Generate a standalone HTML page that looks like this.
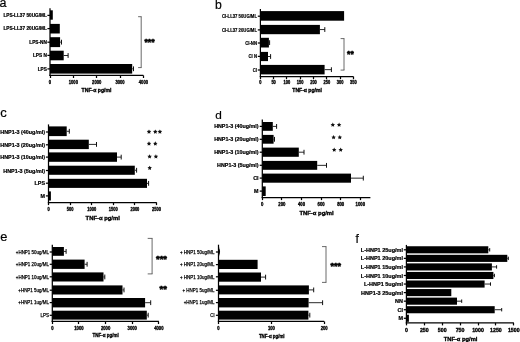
<!DOCTYPE html>
<html><head><meta charset="utf-8"><style>
html,body{margin:0;padding:0;background:#fff;}
svg{display:block;font-family:"Liberation Sans",sans-serif;}
.g{will-change:transform;}
</style></head><body>
<svg width="520" height="342" viewBox="0 0 520 342">
<rect width="520" height="342" fill="#fff"/>
<g class="g" opacity="0.999">
<rect x="50.00" y="10.30" width="2.80" height="9.40" fill="#000"/>
<line x1="47.40" y1="15.40" x2="50.00" y2="15.40" stroke="#000" stroke-width="1.25"/>
<text x="46.80" y="17.26" font-size="5.2" font-weight="bold" text-anchor="end" textLength="43.40" lengthAdjust="spacingAndGlyphs" fill="#000" stroke="#000" stroke-width="0.24">LPS-LL37 50UG/ML</text>
<rect x="50.00" y="23.90" width="9.80" height="9.60" fill="#000"/>
<line x1="47.40" y1="28.60" x2="50.00" y2="28.60" stroke="#000" stroke-width="1.25"/>
<text x="46.80" y="30.46" font-size="5.2" font-weight="bold" text-anchor="end" textLength="43.40" lengthAdjust="spacingAndGlyphs" fill="#000" stroke="#000" stroke-width="0.24">LPS-LL37 20UG/ML</text>
<rect x="50.00" y="37.20" width="10.10" height="9.90" fill="#000"/>
<line x1="60.10" y1="42.15" x2="61.50" y2="42.15" stroke="#111" stroke-width="0.9"/>
<line x1="61.50" y1="39.75" x2="61.50" y2="44.55" stroke="#111" stroke-width="1.0"/>
<line x1="47.40" y1="42.20" x2="50.00" y2="42.20" stroke="#000" stroke-width="1.25"/>
<text x="46.80" y="44.06" font-size="5.2" font-weight="bold" text-anchor="end" textLength="17.52" lengthAdjust="spacingAndGlyphs" fill="#000" stroke="#000" stroke-width="0.24">LPS-NN</text>
<rect x="50.00" y="50.70" width="13.70" height="9.60" fill="#000"/>
<line x1="63.70" y1="55.50" x2="68.10" y2="55.50" stroke="#111" stroke-width="0.9"/>
<line x1="68.10" y1="53.10" x2="68.10" y2="57.90" stroke="#111" stroke-width="1.0"/>
<line x1="47.40" y1="55.40" x2="50.00" y2="55.40" stroke="#000" stroke-width="1.25"/>
<text x="46.80" y="57.26" font-size="5.2" font-weight="bold" text-anchor="end" textLength="13.86" lengthAdjust="spacingAndGlyphs" fill="#000" stroke="#000" stroke-width="0.24">LPS N</text>
<rect x="50.00" y="64.00" width="82.20" height="9.60" fill="#000"/>
<line x1="132.20" y1="68.80" x2="133.50" y2="68.80" stroke="#111" stroke-width="0.9"/>
<line x1="133.50" y1="66.40" x2="133.50" y2="71.20" stroke="#111" stroke-width="1.0"/>
<line x1="47.40" y1="68.90" x2="50.00" y2="68.90" stroke="#000" stroke-width="1.25"/>
<text x="46.80" y="70.76" font-size="5.2" font-weight="bold" text-anchor="end" textLength="9.15" lengthAdjust="spacingAndGlyphs" fill="#000" stroke="#000" stroke-width="0.24">LPS</text>
<line x1="50.00" y1="8.30" x2="50.00" y2="76.03" stroke="#000" stroke-width="1.25"/>
<line x1="49.38" y1="75.40" x2="143.40" y2="75.40" stroke="#000" stroke-width="1.25"/>
<line x1="50.50" y1="75.40" x2="50.50" y2="78.00" stroke="#000" stroke-width="1.25"/>
<text x="50.00" y="83.86" font-size="5.2" font-weight="bold" text-anchor="middle" textLength="2.31" lengthAdjust="spacingAndGlyphs" fill="#000" stroke="#000" stroke-width="0.35">0</text>
<line x1="73.50" y1="75.40" x2="73.50" y2="78.00" stroke="#000" stroke-width="1.25"/>
<text x="73.35" y="83.86" font-size="5.2" font-weight="bold" text-anchor="middle" textLength="9.25" lengthAdjust="spacingAndGlyphs" fill="#000" stroke="#000" stroke-width="0.35">1000</text>
<line x1="96.50" y1="75.40" x2="96.50" y2="78.00" stroke="#000" stroke-width="1.25"/>
<text x="96.70" y="83.86" font-size="5.2" font-weight="bold" text-anchor="middle" textLength="9.25" lengthAdjust="spacingAndGlyphs" fill="#000" stroke="#000" stroke-width="0.35">2000</text>
<line x1="120.50" y1="75.40" x2="120.50" y2="78.00" stroke="#000" stroke-width="1.25"/>
<text x="120.05" y="83.86" font-size="5.2" font-weight="bold" text-anchor="middle" textLength="9.25" lengthAdjust="spacingAndGlyphs" fill="#000" stroke="#000" stroke-width="0.35">3000</text>
<line x1="143.50" y1="75.40" x2="143.50" y2="78.00" stroke="#000" stroke-width="1.25"/>
<text x="143.40" y="83.86" font-size="5.2" font-weight="bold" text-anchor="middle" textLength="9.25" lengthAdjust="spacingAndGlyphs" fill="#000" stroke="#000" stroke-width="0.35">4000</text>
<text x="96.50" y="92.13" font-size="5.4" font-weight="bold" text-anchor="middle" textLength="29.80" lengthAdjust="spacingAndGlyphs" fill="#000" stroke="#000" stroke-width="0.35">TNF-α pg/ml</text>
<text x="-0.60" y="6.70" font-size="12.5" font-weight="normal" fill="#000" stroke="#000" stroke-width="0.2">a</text>
<line x1="141.20" y1="16.70" x2="141.20" y2="67.60" stroke="#444" stroke-width="0.8"/>
<line x1="138.10" y1="16.70" x2="141.60" y2="16.70" stroke="#444" stroke-width="0.8"/>
<line x1="138.10" y1="67.60" x2="141.60" y2="67.60" stroke="#444" stroke-width="0.8"/>
<text x="144.50" y="45.30" font-size="9.5" font-weight="bold" text-anchor="start" textLength="10.10" lengthAdjust="spacingAndGlyphs" fill="#000" stroke="#000" stroke-width="0.6">***</text>
<rect x="260.40" y="11.10" width="83.70" height="9.60" fill="#000"/>
<line x1="257.80" y1="16.20" x2="260.40" y2="16.20" stroke="#000" stroke-width="1.25"/>
<text x="257.00" y="17.95" font-size="4.9" font-weight="bold" text-anchor="end" textLength="35.09" lengthAdjust="spacingAndGlyphs" fill="#000" stroke="#000" stroke-width="0.2">Cl-LL37 50UG/ML</text>
<rect x="260.40" y="24.90" width="59.50" height="9.30" fill="#000"/>
<line x1="319.90" y1="29.55" x2="324.80" y2="29.55" stroke="#111" stroke-width="0.9"/>
<line x1="324.80" y1="27.15" x2="324.80" y2="31.95" stroke="#111" stroke-width="1.0"/>
<line x1="257.80" y1="29.90" x2="260.40" y2="29.90" stroke="#000" stroke-width="1.25"/>
<text x="257.00" y="31.65" font-size="4.9" font-weight="bold" text-anchor="end" textLength="35.09" lengthAdjust="spacingAndGlyphs" fill="#000" stroke="#000" stroke-width="0.2">Cl-LL37 20UG/ML</text>
<rect x="260.40" y="37.80" width="8.50" height="9.70" fill="#000"/>
<line x1="268.90" y1="42.65" x2="269.60" y2="42.65" stroke="#111" stroke-width="0.9"/>
<line x1="269.60" y1="40.25" x2="269.60" y2="45.05" stroke="#111" stroke-width="1.0"/>
<line x1="257.80" y1="43.00" x2="260.40" y2="43.00" stroke="#000" stroke-width="1.25"/>
<text x="257.00" y="44.75" font-size="4.9" font-weight="bold" text-anchor="end" textLength="11.77" lengthAdjust="spacingAndGlyphs" fill="#000" stroke="#000" stroke-width="0.2">Cl-NN</text>
<rect x="260.40" y="51.90" width="7.60" height="9.20" fill="#000"/>
<line x1="268.00" y1="56.50" x2="270.60" y2="56.50" stroke="#111" stroke-width="0.9"/>
<line x1="270.60" y1="54.10" x2="270.60" y2="58.90" stroke="#111" stroke-width="1.0"/>
<line x1="257.80" y1="56.40" x2="260.40" y2="56.40" stroke="#000" stroke-width="1.25"/>
<text x="257.00" y="58.15" font-size="4.9" font-weight="bold" text-anchor="end" textLength="8.48" lengthAdjust="spacingAndGlyphs" fill="#000" stroke="#000" stroke-width="0.2">Cl N</text>
<rect x="260.40" y="64.90" width="64.20" height="9.50" fill="#000"/>
<line x1="324.60" y1="69.65" x2="331.40" y2="69.65" stroke="#111" stroke-width="0.9"/>
<line x1="331.40" y1="67.25" x2="331.40" y2="72.05" stroke="#111" stroke-width="1.0"/>
<line x1="257.80" y1="70.00" x2="260.40" y2="70.00" stroke="#000" stroke-width="1.25"/>
<text x="257.00" y="71.75" font-size="4.9" font-weight="bold" text-anchor="end" textLength="4.24" lengthAdjust="spacingAndGlyphs" fill="#000" stroke="#000" stroke-width="0.2">Cl</text>
<line x1="260.40" y1="9.00" x2="260.40" y2="77.12" stroke="#000" stroke-width="1.25"/>
<line x1="259.77" y1="76.50" x2="353.40" y2="76.50" stroke="#000" stroke-width="1.25"/>
<line x1="260.50" y1="76.50" x2="260.50" y2="79.10" stroke="#000" stroke-width="1.25"/>
<text x="260.30" y="84.39" font-size="5.0" font-weight="bold" text-anchor="middle" textLength="2.22" lengthAdjust="spacingAndGlyphs" fill="#000" stroke="#000" stroke-width="0.35">0</text>
<line x1="273.50" y1="76.50" x2="273.50" y2="79.10" stroke="#000" stroke-width="1.25"/>
<text x="273.60" y="84.39" font-size="5.0" font-weight="bold" text-anchor="middle" textLength="4.45" lengthAdjust="spacingAndGlyphs" fill="#000" stroke="#000" stroke-width="0.35">50</text>
<line x1="286.50" y1="76.50" x2="286.50" y2="79.10" stroke="#000" stroke-width="1.25"/>
<text x="286.90" y="84.39" font-size="5.0" font-weight="bold" text-anchor="middle" textLength="6.67" lengthAdjust="spacingAndGlyphs" fill="#000" stroke="#000" stroke-width="0.35">100</text>
<line x1="300.50" y1="76.50" x2="300.50" y2="79.10" stroke="#000" stroke-width="1.25"/>
<text x="300.20" y="84.39" font-size="5.0" font-weight="bold" text-anchor="middle" textLength="6.67" lengthAdjust="spacingAndGlyphs" fill="#000" stroke="#000" stroke-width="0.35">150</text>
<line x1="313.50" y1="76.50" x2="313.50" y2="79.10" stroke="#000" stroke-width="1.25"/>
<text x="313.50" y="84.39" font-size="5.0" font-weight="bold" text-anchor="middle" textLength="6.67" lengthAdjust="spacingAndGlyphs" fill="#000" stroke="#000" stroke-width="0.35">200</text>
<line x1="326.50" y1="76.50" x2="326.50" y2="79.10" stroke="#000" stroke-width="1.25"/>
<text x="326.80" y="84.39" font-size="5.0" font-weight="bold" text-anchor="middle" textLength="6.67" lengthAdjust="spacingAndGlyphs" fill="#000" stroke="#000" stroke-width="0.35">250</text>
<line x1="340.50" y1="76.50" x2="340.50" y2="79.10" stroke="#000" stroke-width="1.25"/>
<text x="340.10" y="84.39" font-size="5.0" font-weight="bold" text-anchor="middle" textLength="6.67" lengthAdjust="spacingAndGlyphs" fill="#000" stroke="#000" stroke-width="0.35">300</text>
<line x1="353.50" y1="76.50" x2="353.50" y2="79.10" stroke="#000" stroke-width="1.25"/>
<text x="353.40" y="84.39" font-size="5.0" font-weight="bold" text-anchor="middle" textLength="6.67" lengthAdjust="spacingAndGlyphs" fill="#000" stroke="#000" stroke-width="0.35">350</text>
<text x="307.10" y="92.20" font-size="5.3" font-weight="bold" text-anchor="middle" textLength="29.60" lengthAdjust="spacingAndGlyphs" fill="#000" stroke="#000" stroke-width="0.35">TNF-α pg/ml</text>
<text x="214.90" y="8.80" font-size="12.2" font-weight="normal" fill="#000" stroke="#000" stroke-width="0.2">b</text>
<line x1="344.00" y1="38.60" x2="344.00" y2="70.10" stroke="#444" stroke-width="0.8"/>
<line x1="340.60" y1="38.60" x2="344.40" y2="38.60" stroke="#444" stroke-width="0.8"/>
<line x1="340.60" y1="70.10" x2="344.40" y2="70.10" stroke="#444" stroke-width="0.8"/>
<text x="347.10" y="57.30" font-size="9.5" font-weight="bold" text-anchor="start" textLength="6.60" lengthAdjust="spacingAndGlyphs" fill="#000" stroke="#000" stroke-width="0.6">**</text>
<rect x="48.50" y="126.40" width="18.20" height="9.70" fill="#000"/>
<line x1="66.70" y1="131.25" x2="69.30" y2="131.25" stroke="#111" stroke-width="0.9"/>
<line x1="69.30" y1="128.85" x2="69.30" y2="133.65" stroke="#111" stroke-width="1.0"/>
<line x1="45.90" y1="132.00" x2="48.50" y2="132.00" stroke="#000" stroke-width="1.25"/>
<text x="45.00" y="134.08" font-size="5.8" font-weight="bold" text-anchor="end" textLength="44.66" lengthAdjust="spacingAndGlyphs" fill="#000" stroke="#000" stroke-width="0.24">HNP1-3 (40ug/ml)</text>
<rect x="48.50" y="139.70" width="40.30" height="9.40" fill="#000"/>
<line x1="88.80" y1="144.40" x2="96.50" y2="144.40" stroke="#111" stroke-width="0.9"/>
<line x1="96.50" y1="142.00" x2="96.50" y2="146.80" stroke="#111" stroke-width="1.0"/>
<line x1="45.90" y1="144.80" x2="48.50" y2="144.80" stroke="#000" stroke-width="1.25"/>
<text x="45.00" y="146.88" font-size="5.8" font-weight="bold" text-anchor="end" textLength="44.66" lengthAdjust="spacingAndGlyphs" fill="#000" stroke="#000" stroke-width="0.24">HNP1-3 (20ug/ml)</text>
<rect x="48.50" y="152.40" width="68.50" height="9.40" fill="#000"/>
<line x1="117.00" y1="157.10" x2="121.20" y2="157.10" stroke="#111" stroke-width="0.9"/>
<line x1="121.20" y1="154.70" x2="121.20" y2="159.50" stroke="#111" stroke-width="1.0"/>
<line x1="45.90" y1="157.10" x2="48.50" y2="157.10" stroke="#000" stroke-width="1.25"/>
<text x="45.00" y="159.18" font-size="5.8" font-weight="bold" text-anchor="end" textLength="44.66" lengthAdjust="spacingAndGlyphs" fill="#000" stroke="#000" stroke-width="0.24">HNP1-3 (10ug/ml)</text>
<rect x="48.50" y="165.70" width="86.30" height="9.10" fill="#000"/>
<line x1="134.80" y1="170.25" x2="136.60" y2="170.25" stroke="#111" stroke-width="0.9"/>
<line x1="136.60" y1="167.85" x2="136.60" y2="172.65" stroke="#111" stroke-width="1.0"/>
<line x1="45.90" y1="170.50" x2="48.50" y2="170.50" stroke="#000" stroke-width="1.25"/>
<text x="45.00" y="172.58" font-size="5.8" font-weight="bold" text-anchor="end" textLength="41.66" lengthAdjust="spacingAndGlyphs" fill="#000" stroke="#000" stroke-width="0.24">HNP1-3 (5ug/ml)</text>
<rect x="48.50" y="178.80" width="98.50" height="9.10" fill="#000"/>
<line x1="147.00" y1="183.35" x2="148.60" y2="183.35" stroke="#111" stroke-width="0.9"/>
<line x1="148.60" y1="180.95" x2="148.60" y2="185.75" stroke="#111" stroke-width="1.0"/>
<line x1="45.90" y1="183.20" x2="48.50" y2="183.20" stroke="#000" stroke-width="1.25"/>
<text x="45.00" y="185.28" font-size="5.8" font-weight="bold" text-anchor="end" textLength="10.49" lengthAdjust="spacingAndGlyphs" fill="#000" stroke="#000" stroke-width="0.24">LPS</text>
<rect x="48.50" y="191.40" width="2.40" height="9.10" fill="#000"/>
<line x1="45.90" y1="195.90" x2="48.50" y2="195.90" stroke="#000" stroke-width="1.25"/>
<text x="45.00" y="197.98" font-size="5.8" font-weight="bold" text-anchor="end" textLength="4.49" lengthAdjust="spacingAndGlyphs" fill="#000" stroke="#000" stroke-width="0.24">M</text>
<line x1="48.50" y1="124.40" x2="48.50" y2="203.12" stroke="#000" stroke-width="1.25"/>
<line x1="47.88" y1="202.50" x2="156.70" y2="202.50" stroke="#000" stroke-width="1.25"/>
<line x1="48.50" y1="202.50" x2="48.50" y2="205.10" stroke="#000" stroke-width="1.25"/>
<text x="48.50" y="210.69" font-size="5.0" font-weight="bold" text-anchor="middle" textLength="2.22" lengthAdjust="spacingAndGlyphs" fill="#000" stroke="#000" stroke-width="0.35">0</text>
<line x1="70.50" y1="202.50" x2="70.50" y2="205.10" stroke="#000" stroke-width="1.25"/>
<text x="70.10" y="210.69" font-size="5.0" font-weight="bold" text-anchor="middle" textLength="6.67" lengthAdjust="spacingAndGlyphs" fill="#000" stroke="#000" stroke-width="0.35">500</text>
<line x1="91.50" y1="202.50" x2="91.50" y2="205.10" stroke="#000" stroke-width="1.25"/>
<text x="91.70" y="210.69" font-size="5.0" font-weight="bold" text-anchor="middle" textLength="8.90" lengthAdjust="spacingAndGlyphs" fill="#000" stroke="#000" stroke-width="0.35">1000</text>
<line x1="113.50" y1="202.50" x2="113.50" y2="205.10" stroke="#000" stroke-width="1.25"/>
<text x="113.30" y="210.69" font-size="5.0" font-weight="bold" text-anchor="middle" textLength="8.90" lengthAdjust="spacingAndGlyphs" fill="#000" stroke="#000" stroke-width="0.35">1500</text>
<line x1="134.50" y1="202.50" x2="134.50" y2="205.10" stroke="#000" stroke-width="1.25"/>
<text x="134.90" y="210.69" font-size="5.0" font-weight="bold" text-anchor="middle" textLength="8.90" lengthAdjust="spacingAndGlyphs" fill="#000" stroke="#000" stroke-width="0.35">2000</text>
<line x1="156.50" y1="202.50" x2="156.50" y2="205.10" stroke="#000" stroke-width="1.25"/>
<text x="156.50" y="210.69" font-size="5.0" font-weight="bold" text-anchor="middle" textLength="8.90" lengthAdjust="spacingAndGlyphs" fill="#000" stroke="#000" stroke-width="0.35">2500</text>
<text x="102.70" y="219.81" font-size="5.9" font-weight="bold" text-anchor="middle" textLength="34.20" lengthAdjust="spacingAndGlyphs" fill="#000" stroke="#000" stroke-width="0.35">TNF-α pg/ml</text>
<text x="0.20" y="116.50" font-size="13" font-weight="normal" fill="#000" stroke="#000" stroke-width="0.2">c</text>
<polygon points="149.00,129.45 149.69,130.85 151.23,131.07 150.12,132.16 150.38,133.70 149.00,132.98 147.62,133.70 147.88,132.16 146.77,131.07 148.31,130.85" fill="#111"/>
<polygon points="155.30,129.45 155.99,130.85 157.53,131.07 156.42,132.16 156.68,133.70 155.30,132.98 153.92,133.70 154.18,132.16 153.07,131.07 154.61,130.85" fill="#111"/>
<polygon points="159.90,129.45 160.59,130.85 162.13,131.07 161.02,132.16 161.28,133.70 159.90,132.98 158.52,133.70 158.78,132.16 157.67,131.07 159.21,130.85" fill="#111"/>
<polygon points="149.00,141.35 149.69,142.75 151.23,142.97 150.12,144.06 150.38,145.60 149.00,144.88 147.62,145.60 147.88,144.06 146.77,142.97 148.31,142.75" fill="#111"/>
<polygon points="155.30,141.35 155.99,142.75 157.53,142.97 156.42,144.06 156.68,145.60 155.30,144.88 153.92,145.60 154.18,144.06 153.07,142.97 154.61,142.75" fill="#111"/>
<polygon points="149.60,154.25 150.29,155.65 151.83,155.87 150.72,156.96 150.98,158.50 149.60,157.78 148.22,158.50 148.48,156.96 147.37,155.87 148.91,155.65" fill="#111"/>
<polygon points="155.90,154.25 156.59,155.65 158.13,155.87 157.02,156.96 157.28,158.50 155.90,157.78 154.52,158.50 154.78,156.96 153.67,155.87 155.21,155.65" fill="#111"/>
<polygon points="149.70,165.65 150.39,167.05 151.93,167.27 150.82,168.36 151.08,169.90 149.70,169.18 148.32,169.90 148.58,168.36 147.47,167.27 149.01,167.05" fill="#111"/>
<rect x="262.30" y="122.00" width="10.50" height="8.80" fill="#000"/>
<line x1="272.80" y1="126.40" x2="276.60" y2="126.40" stroke="#111" stroke-width="0.9"/>
<line x1="276.60" y1="124.00" x2="276.60" y2="128.80" stroke="#111" stroke-width="1.0"/>
<line x1="259.70" y1="126.40" x2="262.30" y2="126.40" stroke="#000" stroke-width="1.25"/>
<text x="258.50" y="128.44" font-size="5.7" font-weight="bold" text-anchor="end" textLength="44.36" lengthAdjust="spacingAndGlyphs" fill="#000" stroke="#000" stroke-width="0.24">HNP1-3 (40ug/ml)</text>
<rect x="262.30" y="134.90" width="11.30" height="8.80" fill="#000"/>
<line x1="273.60" y1="139.30" x2="274.50" y2="139.30" stroke="#111" stroke-width="0.9"/>
<line x1="274.50" y1="136.90" x2="274.50" y2="141.70" stroke="#111" stroke-width="1.0"/>
<line x1="259.70" y1="139.30" x2="262.30" y2="139.30" stroke="#000" stroke-width="1.25"/>
<text x="258.50" y="141.34" font-size="5.7" font-weight="bold" text-anchor="end" textLength="44.36" lengthAdjust="spacingAndGlyphs" fill="#000" stroke="#000" stroke-width="0.24">HNP1-3 (20ug/ml)</text>
<rect x="262.30" y="147.60" width="36.50" height="9.20" fill="#000"/>
<line x1="298.80" y1="152.20" x2="304.00" y2="152.20" stroke="#111" stroke-width="0.9"/>
<line x1="304.00" y1="149.80" x2="304.00" y2="154.60" stroke="#111" stroke-width="1.0"/>
<line x1="259.70" y1="152.20" x2="262.30" y2="152.20" stroke="#000" stroke-width="1.25"/>
<text x="258.50" y="154.24" font-size="5.7" font-weight="bold" text-anchor="end" textLength="44.36" lengthAdjust="spacingAndGlyphs" fill="#000" stroke="#000" stroke-width="0.24">HNP1-3 (10ug/ml)</text>
<rect x="262.30" y="160.90" width="54.90" height="8.90" fill="#000"/>
<line x1="317.20" y1="165.35" x2="326.50" y2="165.35" stroke="#111" stroke-width="0.9"/>
<line x1="326.50" y1="162.95" x2="326.50" y2="167.75" stroke="#111" stroke-width="1.0"/>
<line x1="259.70" y1="165.30" x2="262.30" y2="165.30" stroke="#000" stroke-width="1.25"/>
<text x="258.50" y="167.34" font-size="5.7" font-weight="bold" text-anchor="end" textLength="41.38" lengthAdjust="spacingAndGlyphs" fill="#000" stroke="#000" stroke-width="0.24">HNP1-3 (5ug/ml)</text>
<rect x="262.30" y="173.60" width="88.70" height="9.10" fill="#000"/>
<line x1="351.00" y1="178.15" x2="363.30" y2="178.15" stroke="#111" stroke-width="0.9"/>
<line x1="363.30" y1="175.75" x2="363.30" y2="180.55" stroke="#111" stroke-width="1.0"/>
<line x1="259.70" y1="178.10" x2="262.30" y2="178.10" stroke="#000" stroke-width="1.25"/>
<text x="258.50" y="180.14" font-size="5.7" font-weight="bold" text-anchor="end" textLength="5.36" lengthAdjust="spacingAndGlyphs" fill="#000" stroke="#000" stroke-width="0.24">Cl</text>
<rect x="262.30" y="186.40" width="3.40" height="9.60" fill="#000"/>
<line x1="259.70" y1="191.10" x2="262.30" y2="191.10" stroke="#000" stroke-width="1.25"/>
<text x="258.50" y="193.14" font-size="5.7" font-weight="bold" text-anchor="end" textLength="4.46" lengthAdjust="spacingAndGlyphs" fill="#000" stroke="#000" stroke-width="0.24">M</text>
<line x1="262.30" y1="119.40" x2="262.30" y2="198.12" stroke="#000" stroke-width="1.25"/>
<line x1="261.68" y1="197.50" x2="370.40" y2="197.50" stroke="#000" stroke-width="1.25"/>
<line x1="262.50" y1="197.50" x2="262.50" y2="200.10" stroke="#000" stroke-width="1.25"/>
<text x="262.30" y="205.79" font-size="5.0" font-weight="bold" text-anchor="middle" textLength="2.36" lengthAdjust="spacingAndGlyphs" fill="#000" stroke="#000" stroke-width="0.35">0</text>
<line x1="281.50" y1="197.50" x2="281.50" y2="200.10" stroke="#000" stroke-width="1.25"/>
<text x="281.90" y="205.79" font-size="5.0" font-weight="bold" text-anchor="middle" textLength="7.09" lengthAdjust="spacingAndGlyphs" fill="#000" stroke="#000" stroke-width="0.35">200</text>
<line x1="301.50" y1="197.50" x2="301.50" y2="200.10" stroke="#000" stroke-width="1.25"/>
<text x="301.50" y="205.79" font-size="5.0" font-weight="bold" text-anchor="middle" textLength="7.09" lengthAdjust="spacingAndGlyphs" fill="#000" stroke="#000" stroke-width="0.35">400</text>
<line x1="321.50" y1="197.50" x2="321.50" y2="200.10" stroke="#000" stroke-width="1.25"/>
<text x="321.10" y="205.79" font-size="5.0" font-weight="bold" text-anchor="middle" textLength="7.09" lengthAdjust="spacingAndGlyphs" fill="#000" stroke="#000" stroke-width="0.35">600</text>
<line x1="340.50" y1="197.50" x2="340.50" y2="200.10" stroke="#000" stroke-width="1.25"/>
<text x="340.70" y="205.79" font-size="5.0" font-weight="bold" text-anchor="middle" textLength="7.09" lengthAdjust="spacingAndGlyphs" fill="#000" stroke="#000" stroke-width="0.35">800</text>
<line x1="360.50" y1="197.50" x2="360.50" y2="200.10" stroke="#000" stroke-width="1.25"/>
<text x="360.30" y="205.79" font-size="5.0" font-weight="bold" text-anchor="middle" textLength="9.45" lengthAdjust="spacingAndGlyphs" fill="#000" stroke="#000" stroke-width="0.35">1000</text>
<text x="316.60" y="214.81" font-size="5.9" font-weight="bold" text-anchor="middle" textLength="34.30" lengthAdjust="spacingAndGlyphs" fill="#000" stroke="#000" stroke-width="0.35">TNF-α pg/ml</text>
<text x="215.30" y="118.60" font-size="11.8" font-weight="normal" fill="#000" stroke="#000" stroke-width="0.2">d</text>
<polygon points="332.80,122.55 333.49,123.95 335.03,124.17 333.92,125.26 334.18,126.80 332.80,126.08 331.42,126.80 331.68,125.26 330.57,124.17 332.11,123.95" fill="#111"/>
<polygon points="339.10,122.55 339.79,123.95 341.33,124.17 340.22,125.26 340.48,126.80 339.10,126.08 337.72,126.80 337.98,125.26 336.87,124.17 338.41,123.95" fill="#111"/>
<polygon points="333.60,135.05 334.29,136.45 335.83,136.67 334.72,137.76 334.98,139.30 333.60,138.58 332.22,139.30 332.48,137.76 331.37,136.67 332.91,136.45" fill="#111"/>
<polygon points="339.80,135.05 340.49,136.45 342.03,136.67 340.92,137.76 341.18,139.30 339.80,138.58 338.42,139.30 338.68,137.76 337.57,136.67 339.11,136.45" fill="#111"/>
<polygon points="334.20,147.55 334.89,148.95 336.43,149.17 335.32,150.26 335.58,151.80 334.20,151.08 332.82,151.80 333.08,150.26 331.97,149.17 333.51,148.95" fill="#111"/>
<polygon points="340.70,147.55 341.39,148.95 342.93,149.17 341.82,150.26 342.08,151.80 340.70,151.08 339.32,151.80 339.58,150.26 338.47,149.17 340.01,148.95" fill="#111"/>
<rect x="52.30" y="247.00" width="11.60" height="8.80" fill="#000"/>
<line x1="63.90" y1="251.40" x2="66.10" y2="251.40" stroke="#111" stroke-width="0.9"/>
<line x1="66.10" y1="249.00" x2="66.10" y2="253.80" stroke="#111" stroke-width="1.0"/>
<line x1="49.70" y1="252.00" x2="52.30" y2="252.00" stroke="#000" stroke-width="1.25"/>
<text x="49.00" y="253.86" font-size="5.2" font-weight="normal" text-anchor="end" textLength="33.19" lengthAdjust="spacingAndGlyphs" fill="#000" stroke="#000" stroke-width="0.25">+HNP1 50ug/ML</text>
<rect x="52.30" y="259.60" width="32.30" height="9.30" fill="#000"/>
<line x1="84.60" y1="264.25" x2="87.10" y2="264.25" stroke="#111" stroke-width="0.9"/>
<line x1="87.10" y1="261.85" x2="87.10" y2="266.65" stroke="#111" stroke-width="1.0"/>
<line x1="49.70" y1="264.30" x2="52.30" y2="264.30" stroke="#000" stroke-width="1.25"/>
<text x="49.00" y="266.16" font-size="5.2" font-weight="normal" text-anchor="end" textLength="33.19" lengthAdjust="spacingAndGlyphs" fill="#000" stroke="#000" stroke-width="0.25">+HNP1 20ug/ML</text>
<rect x="52.30" y="272.40" width="51.20" height="9.10" fill="#000"/>
<line x1="103.50" y1="276.95" x2="104.80" y2="276.95" stroke="#111" stroke-width="0.9"/>
<line x1="104.80" y1="274.55" x2="104.80" y2="279.35" stroke="#111" stroke-width="1.0"/>
<line x1="49.70" y1="276.80" x2="52.30" y2="276.80" stroke="#000" stroke-width="1.25"/>
<text x="49.00" y="278.66" font-size="5.2" font-weight="normal" text-anchor="end" textLength="33.19" lengthAdjust="spacingAndGlyphs" fill="#000" stroke="#000" stroke-width="0.25">+HNP1 10ug/ML</text>
<rect x="52.30" y="285.40" width="70.20" height="9.10" fill="#000"/>
<line x1="122.50" y1="289.95" x2="124.00" y2="289.95" stroke="#111" stroke-width="0.9"/>
<line x1="124.00" y1="287.55" x2="124.00" y2="292.35" stroke="#111" stroke-width="1.0"/>
<line x1="49.70" y1="290.20" x2="52.30" y2="290.20" stroke="#000" stroke-width="1.25"/>
<text x="49.00" y="292.06" font-size="5.2" font-weight="normal" text-anchor="end" textLength="30.70" lengthAdjust="spacingAndGlyphs" fill="#000" stroke="#000" stroke-width="0.25">+HNP1 5ug/ML</text>
<rect x="52.30" y="298.00" width="92.80" height="9.40" fill="#000"/>
<line x1="145.10" y1="302.70" x2="150.70" y2="302.70" stroke="#111" stroke-width="0.9"/>
<line x1="150.70" y1="300.30" x2="150.70" y2="305.10" stroke="#111" stroke-width="1.0"/>
<line x1="49.70" y1="302.60" x2="52.30" y2="302.60" stroke="#000" stroke-width="1.25"/>
<text x="49.00" y="304.46" font-size="5.2" font-weight="normal" text-anchor="end" textLength="30.70" lengthAdjust="spacingAndGlyphs" fill="#000" stroke="#000" stroke-width="0.25">+HNP1 1ug/ML</text>
<rect x="52.30" y="310.70" width="94.50" height="8.90" fill="#000"/>
<line x1="146.80" y1="315.15" x2="148.20" y2="315.15" stroke="#111" stroke-width="0.9"/>
<line x1="148.20" y1="312.75" x2="148.20" y2="317.55" stroke="#111" stroke-width="1.0"/>
<line x1="49.70" y1="315.30" x2="52.30" y2="315.30" stroke="#000" stroke-width="1.25"/>
<text x="49.00" y="317.16" font-size="5.2" font-weight="normal" text-anchor="end" textLength="8.45" lengthAdjust="spacingAndGlyphs" fill="#000" stroke="#000" stroke-width="0.25">LPS</text>
<line x1="52.30" y1="244.70" x2="52.30" y2="322.07" stroke="#000" stroke-width="1.25"/>
<line x1="51.67" y1="321.45" x2="158.90" y2="321.45" stroke="#000" stroke-width="1.25"/>
<line x1="52.50" y1="321.45" x2="52.50" y2="324.05" stroke="#000" stroke-width="1.25"/>
<text x="52.30" y="329.79" font-size="5.0" font-weight="bold" text-anchor="middle" textLength="2.34" lengthAdjust="spacingAndGlyphs" fill="#000" stroke="#000" stroke-width="0.35">0</text>
<line x1="78.50" y1="321.45" x2="78.50" y2="324.05" stroke="#000" stroke-width="1.25"/>
<text x="78.94" y="329.79" font-size="5.0" font-weight="bold" text-anchor="middle" textLength="9.34" lengthAdjust="spacingAndGlyphs" fill="#000" stroke="#000" stroke-width="0.35">1000</text>
<line x1="105.50" y1="321.45" x2="105.50" y2="324.05" stroke="#000" stroke-width="1.25"/>
<text x="105.58" y="329.79" font-size="5.0" font-weight="bold" text-anchor="middle" textLength="9.34" lengthAdjust="spacingAndGlyphs" fill="#000" stroke="#000" stroke-width="0.35">2000</text>
<line x1="132.50" y1="321.45" x2="132.50" y2="324.05" stroke="#000" stroke-width="1.25"/>
<text x="132.22" y="329.79" font-size="5.0" font-weight="bold" text-anchor="middle" textLength="9.34" lengthAdjust="spacingAndGlyphs" fill="#000" stroke="#000" stroke-width="0.35">3000</text>
<line x1="158.50" y1="321.45" x2="158.50" y2="324.05" stroke="#000" stroke-width="1.25"/>
<text x="158.86" y="329.79" font-size="5.0" font-weight="bold" text-anchor="middle" textLength="9.34" lengthAdjust="spacingAndGlyphs" fill="#000" stroke="#000" stroke-width="0.35">4000</text>
<text x="105.60" y="337.40" font-size="5.3" font-weight="bold" text-anchor="middle" textLength="26.10" lengthAdjust="spacingAndGlyphs" fill="#000" stroke="#000" stroke-width="0.35">TNF-α pg/ml</text>
<text x="0.30" y="241.40" font-size="12.8" font-weight="normal" fill="#000" stroke="#000" stroke-width="0.2">e</text>
<line x1="152.10" y1="238.40" x2="152.10" y2="273.90" stroke="#444" stroke-width="0.8"/>
<line x1="147.70" y1="238.40" x2="152.50" y2="238.40" stroke="#444" stroke-width="0.8"/>
<line x1="147.70" y1="273.90" x2="152.50" y2="273.90" stroke="#444" stroke-width="0.8"/>
<text x="156.00" y="261.60" font-size="9.5" font-weight="bold" text-anchor="start" textLength="11.00" lengthAdjust="spacingAndGlyphs" fill="#000" stroke="#000" stroke-width="0.6">***</text>
<text x="159.60" y="291.90" font-size="9.5" font-weight="bold" text-anchor="start" textLength="7.40" lengthAdjust="spacingAndGlyphs" fill="#000" stroke="#000" stroke-width="0.6">**</text>
<rect x="218.50" y="247.30" width="0.70" height="8.80" fill="#000"/>
<line x1="215.90" y1="252.00" x2="218.50" y2="252.00" stroke="#000" stroke-width="1.25"/>
<text x="214.40" y="253.86" font-size="5.2" font-weight="normal" text-anchor="end" textLength="34.43" lengthAdjust="spacingAndGlyphs" fill="#000" stroke="#000" stroke-width="0.25">+ HNP1 50ug/ML</text>
<rect x="218.50" y="259.80" width="39.10" height="9.20" fill="#000"/>
<line x1="215.90" y1="264.60" x2="218.50" y2="264.60" stroke="#000" stroke-width="1.25"/>
<text x="214.40" y="266.46" font-size="5.2" font-weight="normal" text-anchor="end" textLength="34.43" lengthAdjust="spacingAndGlyphs" fill="#000" stroke="#000" stroke-width="0.25">+ HNP1 20ug/ML</text>
<rect x="218.50" y="272.50" width="42.50" height="9.20" fill="#000"/>
<line x1="261.00" y1="277.10" x2="265.60" y2="277.10" stroke="#111" stroke-width="0.9"/>
<line x1="265.60" y1="274.70" x2="265.60" y2="279.50" stroke="#111" stroke-width="1.0"/>
<line x1="215.90" y1="276.80" x2="218.50" y2="276.80" stroke="#000" stroke-width="1.25"/>
<text x="214.40" y="278.66" font-size="5.2" font-weight="normal" text-anchor="end" textLength="34.43" lengthAdjust="spacingAndGlyphs" fill="#000" stroke="#000" stroke-width="0.25">+ HNP1 10ug/ML</text>
<rect x="218.50" y="285.40" width="90.40" height="9.00" fill="#000"/>
<line x1="308.90" y1="289.90" x2="313.70" y2="289.90" stroke="#111" stroke-width="0.9"/>
<line x1="313.70" y1="287.50" x2="313.70" y2="292.30" stroke="#111" stroke-width="1.0"/>
<line x1="215.90" y1="290.30" x2="218.50" y2="290.30" stroke="#000" stroke-width="1.25"/>
<text x="214.40" y="292.16" font-size="5.2" font-weight="normal" text-anchor="end" textLength="31.94" lengthAdjust="spacingAndGlyphs" fill="#000" stroke="#000" stroke-width="0.25">+ HNP1 5ug/ML</text>
<rect x="218.50" y="298.00" width="90.10" height="9.40" fill="#000"/>
<line x1="308.60" y1="302.70" x2="322.60" y2="302.70" stroke="#111" stroke-width="0.9"/>
<line x1="322.60" y1="300.30" x2="322.60" y2="305.10" stroke="#111" stroke-width="1.0"/>
<line x1="215.90" y1="302.60" x2="218.50" y2="302.60" stroke="#000" stroke-width="1.25"/>
<text x="214.40" y="304.46" font-size="5.2" font-weight="normal" text-anchor="end" textLength="30.70" lengthAdjust="spacingAndGlyphs" fill="#000" stroke="#000" stroke-width="0.25">+HNP1 1ug/ML</text>
<rect x="218.50" y="310.70" width="89.90" height="8.90" fill="#000"/>
<line x1="308.40" y1="315.15" x2="309.80" y2="315.15" stroke="#111" stroke-width="0.9"/>
<line x1="309.80" y1="312.75" x2="309.80" y2="317.55" stroke="#111" stroke-width="1.0"/>
<line x1="215.90" y1="315.30" x2="218.50" y2="315.30" stroke="#000" stroke-width="1.25"/>
<text x="214.40" y="317.16" font-size="5.2" font-weight="normal" text-anchor="end" textLength="4.22" lengthAdjust="spacingAndGlyphs" fill="#000" stroke="#000" stroke-width="0.25">Cl</text>
<line x1="218.50" y1="244.70" x2="218.50" y2="322.07" stroke="#000" stroke-width="1.25"/>
<line x1="217.88" y1="321.45" x2="324.20" y2="321.45" stroke="#000" stroke-width="1.25"/>
<line x1="218.50" y1="321.45" x2="218.50" y2="324.05" stroke="#000" stroke-width="1.25"/>
<text x="218.50" y="329.79" font-size="5.0" font-weight="bold" text-anchor="middle" textLength="2.34" lengthAdjust="spacingAndGlyphs" fill="#000" stroke="#000" stroke-width="0.35">0</text>
<line x1="271.50" y1="321.45" x2="271.50" y2="324.05" stroke="#000" stroke-width="1.25"/>
<text x="271.40" y="329.79" font-size="5.0" font-weight="bold" text-anchor="middle" textLength="7.01" lengthAdjust="spacingAndGlyphs" fill="#000" stroke="#000" stroke-width="0.35">100</text>
<line x1="324.50" y1="321.45" x2="324.50" y2="324.05" stroke="#000" stroke-width="1.25"/>
<text x="324.20" y="329.79" font-size="5.0" font-weight="bold" text-anchor="middle" textLength="7.01" lengthAdjust="spacingAndGlyphs" fill="#000" stroke="#000" stroke-width="0.35">200</text>
<text x="271.75" y="338.10" font-size="5.3" font-weight="bold" text-anchor="middle" textLength="25.70" lengthAdjust="spacingAndGlyphs" fill="#000" stroke="#000" stroke-width="0.35">TNF-α pg/ml</text>
<line x1="326.00" y1="246.60" x2="326.00" y2="282.40" stroke="#444" stroke-width="0.8"/>
<line x1="322.00" y1="246.60" x2="326.40" y2="246.60" stroke="#444" stroke-width="0.8"/>
<line x1="322.00" y1="282.40" x2="326.40" y2="282.40" stroke="#444" stroke-width="0.8"/>
<text x="330.40" y="269.30" font-size="9.5" font-weight="bold" text-anchor="start" textLength="10.60" lengthAdjust="spacingAndGlyphs" fill="#000" stroke="#000" stroke-width="0.6">***</text>
<rect x="406.40" y="246.25" width="81.90" height="7.10" fill="#000"/>
<line x1="488.30" y1="249.80" x2="489.70" y2="249.80" stroke="#111" stroke-width="0.9"/>
<line x1="489.70" y1="248.10" x2="489.70" y2="251.50" stroke="#111" stroke-width="1.0"/>
<line x1="403.80" y1="249.80" x2="406.40" y2="249.80" stroke="#000" stroke-width="1.25"/>
<text x="403.00" y="251.84" font-size="5.7" font-weight="bold" text-anchor="end" textLength="42.18" lengthAdjust="spacingAndGlyphs" fill="#000" stroke="#000" stroke-width="0.24">L-HNP1 25ug/ml</text>
<rect x="406.40" y="254.81" width="100.90" height="7.10" fill="#000"/>
<line x1="507.30" y1="258.36" x2="508.30" y2="258.36" stroke="#111" stroke-width="0.9"/>
<line x1="508.30" y1="256.66" x2="508.30" y2="260.06" stroke="#111" stroke-width="1.0"/>
<line x1="403.80" y1="258.36" x2="406.40" y2="258.36" stroke="#000" stroke-width="1.25"/>
<text x="403.00" y="260.40" font-size="5.7" font-weight="bold" text-anchor="end" textLength="42.18" lengthAdjust="spacingAndGlyphs" fill="#000" stroke="#000" stroke-width="0.24">L-HNP1 20ug/ml</text>
<rect x="406.40" y="263.37" width="85.50" height="7.10" fill="#000"/>
<line x1="491.90" y1="266.92" x2="496.60" y2="266.92" stroke="#111" stroke-width="0.9"/>
<line x1="496.60" y1="265.22" x2="496.60" y2="268.62" stroke="#111" stroke-width="1.0"/>
<line x1="403.80" y1="266.92" x2="406.40" y2="266.92" stroke="#000" stroke-width="1.25"/>
<text x="403.00" y="268.96" font-size="5.7" font-weight="bold" text-anchor="end" textLength="42.18" lengthAdjust="spacingAndGlyphs" fill="#000" stroke="#000" stroke-width="0.24">L-HNP1 15ug/ml</text>
<rect x="406.40" y="271.93" width="87.00" height="7.10" fill="#000"/>
<line x1="493.40" y1="275.48" x2="494.40" y2="275.48" stroke="#111" stroke-width="0.9"/>
<line x1="494.40" y1="273.78" x2="494.40" y2="277.18" stroke="#111" stroke-width="1.0"/>
<line x1="403.80" y1="275.48" x2="406.40" y2="275.48" stroke="#000" stroke-width="1.25"/>
<text x="403.00" y="277.52" font-size="5.7" font-weight="bold" text-anchor="end" textLength="42.18" lengthAdjust="spacingAndGlyphs" fill="#000" stroke="#000" stroke-width="0.24">L-HNP1 10ug/ml</text>
<rect x="406.40" y="280.49" width="78.20" height="7.10" fill="#000"/>
<line x1="484.60" y1="284.04" x2="490.50" y2="284.04" stroke="#111" stroke-width="0.9"/>
<line x1="490.50" y1="282.34" x2="490.50" y2="285.74" stroke="#111" stroke-width="1.0"/>
<line x1="403.80" y1="284.04" x2="406.40" y2="284.04" stroke="#000" stroke-width="1.25"/>
<text x="403.00" y="286.08" font-size="5.7" font-weight="bold" text-anchor="end" textLength="39.12" lengthAdjust="spacingAndGlyphs" fill="#000" stroke="#000" stroke-width="0.24">L-HNP1 5ug/ml</text>
<rect x="406.40" y="289.05" width="44.90" height="7.10" fill="#000"/>
<line x1="403.80" y1="292.60" x2="406.40" y2="292.60" stroke="#000" stroke-width="1.25"/>
<text x="403.00" y="294.64" font-size="5.7" font-weight="bold" text-anchor="end" textLength="41.88" lengthAdjust="spacingAndGlyphs" fill="#000" stroke="#000" stroke-width="0.24">HNP1-3 25ug/ml</text>
<rect x="406.40" y="297.61" width="50.60" height="7.10" fill="#000"/>
<line x1="457.00" y1="301.16" x2="461.70" y2="301.16" stroke="#111" stroke-width="0.9"/>
<line x1="461.70" y1="299.46" x2="461.70" y2="302.86" stroke="#111" stroke-width="1.0"/>
<line x1="403.80" y1="301.16" x2="406.40" y2="301.16" stroke="#000" stroke-width="1.25"/>
<text x="403.00" y="303.20" font-size="5.7" font-weight="bold" text-anchor="end" textLength="7.94" lengthAdjust="spacingAndGlyphs" fill="#000" stroke="#000" stroke-width="0.24">NN</text>
<rect x="406.40" y="306.17" width="88.30" height="7.10" fill="#000"/>
<line x1="494.70" y1="309.72" x2="501.70" y2="309.72" stroke="#111" stroke-width="0.9"/>
<line x1="501.70" y1="308.02" x2="501.70" y2="311.42" stroke="#111" stroke-width="1.0"/>
<line x1="403.80" y1="309.72" x2="406.40" y2="309.72" stroke="#000" stroke-width="1.25"/>
<text x="403.00" y="311.76" font-size="5.7" font-weight="bold" text-anchor="end" textLength="5.50" lengthAdjust="spacingAndGlyphs" fill="#000" stroke="#000" stroke-width="0.24">Cl</text>
<rect x="406.40" y="314.73" width="2.50" height="7.10" fill="#000"/>
<line x1="403.80" y1="318.28" x2="406.40" y2="318.28" stroke="#000" stroke-width="1.25"/>
<text x="403.00" y="320.32" font-size="5.7" font-weight="bold" text-anchor="end" textLength="4.58" lengthAdjust="spacingAndGlyphs" fill="#000" stroke="#000" stroke-width="0.24">M</text>
<line x1="406.40" y1="244.90" x2="406.40" y2="323.43" stroke="#000" stroke-width="1.25"/>
<line x1="405.77" y1="322.80" x2="513.80" y2="322.80" stroke="#000" stroke-width="1.25"/>
<line x1="406.50" y1="322.80" x2="406.50" y2="325.40" stroke="#000" stroke-width="1.25"/>
<text x="406.40" y="331.54" font-size="5.7" font-weight="bold" text-anchor="middle" textLength="2.93" lengthAdjust="spacingAndGlyphs" fill="#000" stroke="#000" stroke-width="0.35">0</text>
<line x1="424.50" y1="322.80" x2="424.50" y2="325.40" stroke="#000" stroke-width="1.25"/>
<text x="424.30" y="331.54" font-size="5.7" font-weight="bold" text-anchor="middle" textLength="8.80" lengthAdjust="spacingAndGlyphs" fill="#000" stroke="#000" stroke-width="0.35">250</text>
<line x1="442.50" y1="322.80" x2="442.50" y2="325.40" stroke="#000" stroke-width="1.25"/>
<text x="442.20" y="331.54" font-size="5.7" font-weight="bold" text-anchor="middle" textLength="8.80" lengthAdjust="spacingAndGlyphs" fill="#000" stroke="#000" stroke-width="0.35">500</text>
<line x1="460.50" y1="322.80" x2="460.50" y2="325.40" stroke="#000" stroke-width="1.25"/>
<text x="460.10" y="331.54" font-size="5.7" font-weight="bold" text-anchor="middle" textLength="8.80" lengthAdjust="spacingAndGlyphs" fill="#000" stroke="#000" stroke-width="0.35">750</text>
<line x1="478.50" y1="322.80" x2="478.50" y2="325.40" stroke="#000" stroke-width="1.25"/>
<text x="478.00" y="331.54" font-size="5.7" font-weight="bold" text-anchor="middle" textLength="11.73" lengthAdjust="spacingAndGlyphs" fill="#000" stroke="#000" stroke-width="0.35">1000</text>
<line x1="495.50" y1="322.80" x2="495.50" y2="325.40" stroke="#000" stroke-width="1.25"/>
<text x="495.90" y="331.54" font-size="5.7" font-weight="bold" text-anchor="middle" textLength="11.73" lengthAdjust="spacingAndGlyphs" fill="#000" stroke="#000" stroke-width="0.35">1250</text>
<line x1="513.50" y1="322.80" x2="513.50" y2="325.40" stroke="#000" stroke-width="1.25"/>
<text x="513.80" y="331.54" font-size="5.7" font-weight="bold" text-anchor="middle" textLength="11.73" lengthAdjust="spacingAndGlyphs" fill="#000" stroke="#000" stroke-width="0.35">1500</text>
<text x="460.60" y="340.81" font-size="5.9" font-weight="bold" text-anchor="middle" textLength="33.80" lengthAdjust="spacingAndGlyphs" fill="#000" stroke="#000" stroke-width="0.35">TNF-α pg/ml</text>
<text x="355.60" y="243.40" font-size="12.2" font-weight="normal" fill="#000" stroke="#000" stroke-width="0.2">f</text>
<path d="M218.5,247.4 Q221.6,251.7 218.5,256.0 Z" fill="#000"/>
</g>
</svg></body></html>
